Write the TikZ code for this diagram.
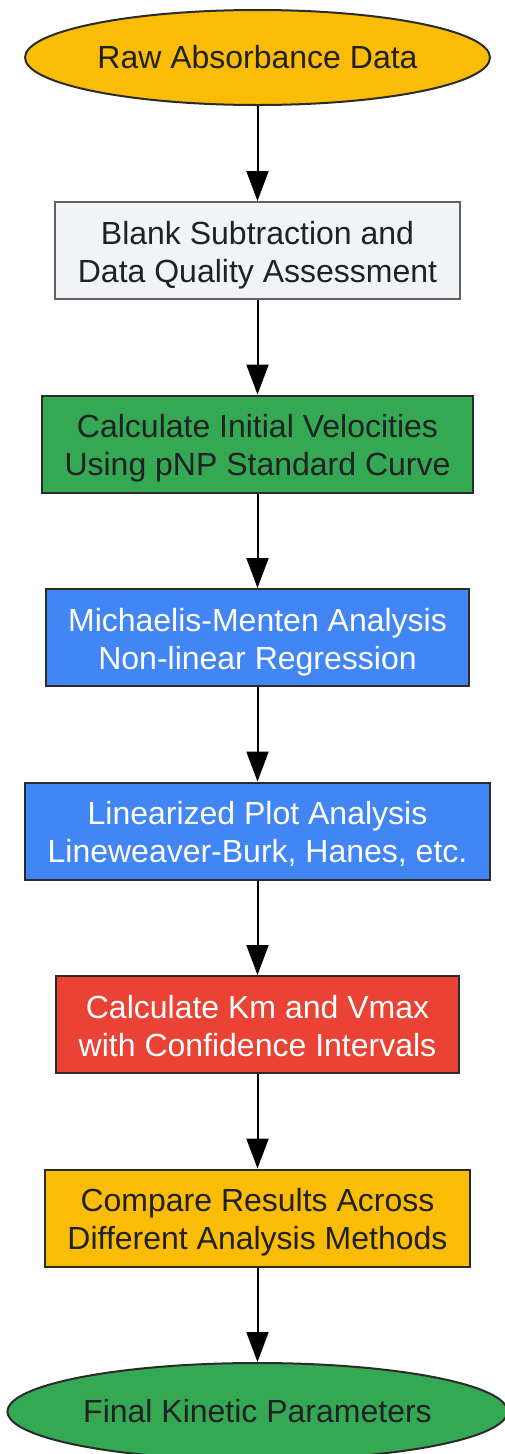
\documentclass[tikz,border=0pt]{standalone}
\usepackage{fontspec}
\setmainfont{Liberation Sans}
\usepackage{tikz}
\usetikzlibrary{arrows.meta, positioning}
\usetikzlibrary{shapes.geometric}

\definecolor{gyellow}{HTML}{FBBC05}
\definecolor{ggreen}{HTML}{34A853}
\definecolor{gblue}{HTML}{4285F4}
\definecolor{gred}{HTML}{EA4335}
\definecolor{ggray}{HTML}{F1F3F4}
\definecolor{gborder}{HTML}{5F6368}
\definecolor{darktext}{HTML}{202124}
\definecolor{darkline}{HTML}{2B2B2B}

\begin{document}
\begin{tikzpicture}[
		x=1pt, y=1pt,
		node distance=94.5pt and 1.2cm,
		every node/.style={font=\fontsize{32}{38}\selectfont, text=darktext},
		block/.style={
			rectangle,
			draw=darkline,
			line width=2pt,
			align=center,
			inner xsep=22.5pt,
			inner ysep=0pt,
			text height=63pt,
			text depth=0pt,
			minimum height=97pt
		},
		terminal/.style={
			ellipse,
			draw=darkline,
			line width=2pt,
			align=center,
			inner sep=0pt
		},
		arrow/.style={
			-{Triangle[length=30pt,width=22pt]},
			line width=2pt,
			black
		}
		]
		
		\useasboundingbox (0,0) rectangle (505,-1454);
		
		% Nodes
		\node[terminal, fill=gyellow, minimum width=465pt, minimum height=95pt] (raw) at (257.5,-57.5) {Raw Absorbance Data};
		
		\node[block, fill=ggray, draw=gborder, below=95pt of raw] (blank) {Blank Subtraction and\\
			Data Quality Assessment};
		
		\node[block, fill=ggreen, below=of blank] (velocity) {Calculate Initial Velocities\\
			Using pNP Standard Curve};
		
		\node[block, fill=gblue, text=white, below=of velocity] (menten) {Michaelis-Menten Analysis\\
			Non-linear Regression};
		
		\node[block, fill=gblue, text=white, below=of menten] (linear) {Linearized Plot Analysis\\
			Lineweaver-Burk, Hanes, etc.};
		
		\node[block, fill=gred, text=white, below=of linear] (kmvmax) {Calculate Km and Vmax\\
			with Confidence Intervals};
		
		\node[block, fill=gyellow, below=of kmvmax] (compare) {Compare Results Across\\
			Different Analysis Methods};
		
		\node[terminal, fill=ggreen, minimum width=500pt, minimum height=97pt, below=of compare] (final) {Final Kinetic Parameters};
		
		% Arrows (main flow)
		\draw[arrow] (raw) -- (blank);
		\draw[arrow] (blank) -- (velocity);
		\draw[arrow] (velocity) -- (menten);
		\draw[arrow] (menten) -- (linear);
		\draw[arrow] (linear) -- (kmvmax);
		\draw[arrow] (kmvmax) -- (compare);
		\draw[arrow] (compare) -- (final);
		
	\end{tikzpicture}
\end{document}
